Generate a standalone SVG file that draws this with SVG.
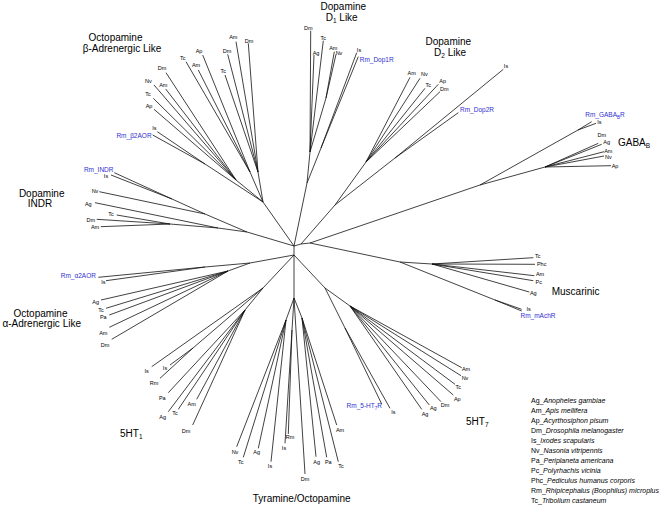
<svg xmlns="http://www.w3.org/2000/svg" width="662" height="511" viewBox="0 0 662 511">
<style>
.e{fill:none;stroke:#111;stroke-width:0.8}
.l{font-family:"Liberation Sans",Arial,sans-serif;font-size:5.5px;fill:#000;text-anchor:middle}
.b{font-family:"Liberation Sans",Arial,sans-serif;font-size:6.5px;fill:#3030d0;text-anchor:middle}
.t{font-family:"Liberation Sans",Arial,sans-serif;font-size:10px;fill:#000;text-anchor:middle}
.ts{font-family:"Liberation Sans",Arial,sans-serif;font-size:10px;fill:#000}
.g{font-family:"Liberation Sans",Arial,sans-serif;font-size:7px;fill:#000}
.i{font-style:italic}
</style>
<rect width="662" height="511" fill="#fff"/>
<g id="connectors" class="e">
<path d="M294 246L301 244M294 246L294 255M294 246L307 183M294 246L263 202M294 246L247 232M294 255L250 263M294 255L263 288M294 255L294 298M294 255L325 288M301 244L335 205M301 244L310 243M310 243L480 185M310 243L400 262"/>
<path d="M307 183L310 152M310 152L310.7 30.7M310 152L314 55M310 152L323.3 40.7M310 152L326 98M326 98L334.3 51.7M326 98L336 54.3M307 183L321 148M321 148L356.7 52.7M321 148L358.3 56.7"/>
<path d="M263 202L205 164M205 164L157.3 131.7M205 164L152.7 135M263 202L236 180M236 180L166 72.7M236 180L154 85M236 180L165.7 89M236 180L153.3 98.3M236 180L154 109.3M263 202L250 172M250 172L186 61.7M250 172L198.3 70M250 172L202.7 55M263 202L258 172M258 172L227.7 54.3M258 172L225 75M258 172L236 41.7M258 172L248.3 43.3"/>
<path d="M247 232L205 214M205 214L172 199M172 199L111 175M172 199L114.3 172.7M205 214L99.3 191.7M247 232L218 228M218 228L95 202.7M218 228L170 224M170 224L116.7 215M170 224L96.7 219.3M170 224L100.7 226.7"/>
<path d="M250 263L205 267M205 267L98.3 277.3M205 267L106 280.7M250 263L228 271M228 271L101 300M228 271L106 308.3M228 271L109.3 315M228 271L109.3 327.3M228 271L111.7 339.3"/>
<path d="M263 288L151.7 366.7M263 288L193 348M193 348L170 365M193 348L160 378.3M263 288L245 310M245 310L168.3 392.7M245 310L168.3 411.7M245 310L178.3 409.3M245 310L196.7 399.3M245 310L192.7 425"/>
<path d="M294 298L286 320M286 320L236.7 446.7M286 320L243.3 457.3M286 320L258.3 448.3M286 320L271 461.7M294 298L292 330M292 330L288.3 434M292 330L285 443.3M294 298L305 474M294 298L302 318M302 318L316 456.7M302 318L326.7 457.3M302 318L338.3 461.7M302 318L336.7 425"/>
<path d="M325 288L345 328M345 328L381.7 404M345 328L390 408.3M325 288L350 306M350 306L461.7 367.7M350 306L461 375.7M350 306L455 384.3M350 306L453.3 395M350 306L441 401.7M350 306L429.3 405M350 306L421.7 409.3"/>
<path d="M335 205L366 162M366 162L410 77.3M366 162L420 78.3M366 162L425 88.3M366 162L438.3 84.3M366 162L440 91.7M335 205L395 158M395 158L503.3 69.3M395 158L458.3 112.7"/>
<path d="M480 185L578 130M578 130L591.7 121.7M578 130L596 123.3M480 185L545 167M545 167L598.3 143.3M545 167L601.7 144.3M545 167L604 151.7M545 167L604 156M545 167L611 165.7"/>
<path d="M400 262L432 264M432 264L533.3 257.7M432 264L535 264.3M432 264L534.3 275.7M432 264L533.3 280.7M432 264L529.3 292M400 262L495 300M495 300L521.7 309.3M495 300L521.7 311"/>
</g>
<g id="clade-beta">
<text class="t" x="115.5" y="41">Octopamine</text>
<text class="t" x="122" y="52">β-Adrenergic Like</text>
<g id="b-Am1"><text class="l" x="233.3" y="39">Am</text></g>
<g id="b-Dm1"><text class="l" x="249" y="42.7">Dm</text></g>
<g id="b-Ap1"><text class="l" x="199" y="52.7">Ap</text></g>
<g id="b-Dm2"><text class="l" x="227" y="53">Dm</text></g>
<g id="b-Tc1"><text class="l" x="182.7" y="60.3">Tc</text></g>
<g id="b-Am2"><text class="l" x="196" y="67">Am</text></g>
<g id="b-Tc2"><text class="l" x="223.3" y="72.7">Tc</text></g>
<g id="b-Dm3"><text class="l" x="162" y="70.3">Dm</text></g>
<g id="b-Nv"><text class="l" x="148.3" y="83">Nv</text></g>
<g id="b-Am3"><text class="l" x="163.3" y="87">Am</text></g>
<g id="b-Tc3"><text class="l" x="148" y="96.3">Tc</text></g>
<g id="b-Ap2"><text class="l" x="149" y="108">Ap</text></g>
<g id="b-Is"><text class="l" x="154.3" y="130.3">Is</text></g>
<g id="b-Rm"><text class="b" x="134" y="138.3">Rm_β2AOR</text></g>
</g>
<g id="clade-d1">
<text class="t" x="343.3" y="10">Dopamine</text>
<text class="t" x="341.7" y="20.5">D<tspan font-size="6.5" dy="2">1</tspan><tspan dy="-2"> Like</tspan></text>
<g id="d1-Dm"><text class="l" x="308.3" y="30.3">Dm</text></g>
<g id="d1-Tc"><text class="l" x="323.3" y="39.7">Tc</text></g>
<g id="d1-Ag"><text class="l" x="316" y="54.7">Ag</text></g>
<g id="d1-Am"><text class="l" x="333.3" y="50.3">Am</text></g>
<g id="d1-Nv"><text class="l" x="339" y="55.3">Nv</text></g>
<g id="d1-Is"><text class="l" x="359" y="52">Is</text></g>
<g id="d1-Rm"><text class="b" x="376.7" y="62.3">Rm_Dop1R</text></g>
</g>
<g id="clade-d2">
<text class="t" x="448.3" y="45">Dopamine</text>
<text class="t" x="450" y="56">D<tspan font-size="6.5" dy="2">2</tspan><tspan dy="-2"> Like</tspan></text>
<g id="d2-Am"><text class="l" x="411.7" y="74.7">Am</text></g>
<g id="d2-Nv"><text class="l" x="424.3" y="76">Nv</text></g>
<g id="d2-Tc"><text class="l" x="428.3" y="87">Tc</text></g>
<g id="d2-Ap"><text class="l" x="442.7" y="82.7">Ap</text></g>
<g id="d2-Dm"><text class="l" x="444.3" y="91.3">Dm</text></g>
<g id="d2-Is"><text class="l" x="506" y="68">Is</text></g>
<g id="d2-Rm"><text class="b" x="477" y="112.3">Rm_Dop2R</text></g>
</g>
<g id="clade-gaba">
<text class="ts" x="618" y="146">GABA<tspan font-size="6.5" dy="2">B</tspan></text>
<g id="g-Rm"><text class="b" x="605" y="117.3">Rm_GABA<tspan font-size="4.5" dy="1.5">B</tspan><tspan dy="-1.5">R</tspan></text></g>
<g id="g-Is"><text class="l" x="599.3" y="123.7">Is</text></g>
<g id="g-Dm"><text class="l" x="601.7" y="137">Dm</text></g>
<g id="g-Ag"><text class="l" x="606.7" y="144.3">Ag</text></g>
<g id="g-Am"><text class="l" x="608.3" y="152.7">Am</text></g>
<g id="g-Nv"><text class="l" x="608.3" y="158.7">Nv</text></g>
<g id="g-Ap"><text class="l" x="615" y="167.7">Ap</text></g>
</g>
<g id="clade-musc">
<text class="ts" x="551.7" y="295">Muscarinic</text>
<g id="m-Tc"><text class="l" x="537.7" y="257.7">Tc</text></g>
<g id="m-Phc"><text class="l" x="541.7" y="266">Phc</text></g>
<g id="m-Am"><text class="l" x="540" y="276.3">Am</text></g>
<g id="m-Pc"><text class="l" x="538.7" y="283.7">Pc</text></g>
<g id="m-Ag"><text class="l" x="533.3" y="294.7">Ag</text></g>
<g id="m-Is"><text class="l" x="528.7" y="310.7">Is</text></g>
<g id="m-Rm"><text class="b" x="538" y="318.3">Rm_mAchR</text></g>
</g>
<g id="clade-indr">
<text class="t" x="41.7" y="196.5">Dopamine</text>
<text class="t" x="40" y="206.7">INDR</text>
<g id="i-Rm"><text class="b" x="98.7" y="172.3">Rm_INDR</text></g>
<g id="i-Is"><text class="l" x="106" y="178">Is</text></g>
<g id="i-Nv"><text class="l" x="95" y="192.7">Nv</text></g>
<g id="i-Ag"><text class="l" x="88.3" y="206">Ag</text></g>
<g id="i-Tc"><text class="l" x="111" y="216">Tc</text></g>
<g id="i-Dm"><text class="l" x="90.7" y="222">Dm</text></g>
<g id="i-Am"><text class="l" x="95" y="229.3">Am</text></g>
</g>
<g id="clade-alpha">
<text class="t" x="40.5" y="316.5">Octopamine</text>
<text class="t" x="41.7" y="327">α-Adrenergic Like</text>
<g id="a-Rm"><text class="b" x="78.3" y="278">Rm_α2AOR</text></g>
<g id="a-Is"><text class="l" x="103.3" y="284.3">Is</text></g>
<g id="a-Ag"><text class="l" x="95.7" y="303.7">Ag</text></g>
<g id="a-Tc"><text class="l" x="101" y="312">Tc</text></g>
<g id="a-Pa"><text class="l" x="103.3" y="318.7">Pa</text></g>
<g id="a-Am"><text class="l" x="103.3" y="334.7">Am</text></g>
<g id="a-Dm"><text class="l" x="105" y="347">Dm</text></g>
</g>
<g id="clade-5ht1">
<text class="ts" x="120" y="437">5HT<tspan font-size="6.5" dy="2">1</tspan></text>
<g id="h1-Is1"><text class="l" x="146.7" y="372.7">Is</text></g>
<g id="h1-Is2"><text class="l" x="165" y="369.5">Is</text></g>
<g id="h1-Rm"><text class="l" x="154" y="385.3">Rm</text></g>
<g id="h1-Pa"><text class="l" x="162.3" y="400.3">Pa</text></g>
<g id="h1-Ag"><text class="l" x="162.7" y="418.7">Ag</text></g>
<g id="h1-Tc"><text class="l" x="175" y="414.7">Tc</text></g>
<g id="h1-Am"><text class="l" x="191.7" y="406.3">Am</text></g>
<g id="h1-Dm"><text class="l" x="186" y="432.7">Dm</text></g>
</g>
<g id="clade-tyr">
<text class="t" x="301.7" y="502">Tyramine/Octopamine</text>
<g id="t-Nv"><text class="l" x="235" y="453.7">Nv</text></g>
<g id="t-Tc1"><text class="l" x="240.7" y="463.7">Tc</text></g>
<g id="t-Ag1"><text class="l" x="256.7" y="453.7">Ag</text></g>
<g id="t-Is1"><text class="l" x="270" y="468">Is</text></g>
<g id="t-Rm"><text class="l" x="290" y="439.3">Rm</text></g>
<g id="t-Is2"><text class="l" x="284" y="449.7">Is</text></g>
<g id="t-Dm"><text class="l" x="305" y="481.3">Dm</text></g>
<g id="t-Ag2"><text class="l" x="316.7" y="463.7">Ag</text></g>
<g id="t-Pa"><text class="l" x="328.3" y="463.7">Pa</text></g>
<g id="t-Tc2"><text class="l" x="341" y="468">Tc</text></g>
<g id="t-Am"><text class="l" x="340" y="432">Am</text></g>
</g>
<g id="clade-5ht7">
<text class="ts" x="466" y="425">5HT<tspan font-size="6.5" dy="2">7</tspan></text>
<g id="h7-Am"><text class="l" x="466" y="371.3">Am</text></g>
<g id="h7-Nv"><text class="l" x="465" y="380.3">Nv</text></g>
<g id="h7-Tc"><text class="l" x="458.3" y="389.3">Tc</text></g>
<g id="h7-Ap"><text class="l" x="457.3" y="401">Ap</text></g>
<g id="h7-Dm"><text class="l" x="445" y="407">Dm</text></g>
<g id="h7-Ag1"><text class="l" x="433.3" y="410.3">Ag</text></g>
<g id="h7-Ag2"><text class="l" x="425" y="416">Ag</text></g>
<g id="h7-Is"><text class="l" x="393.3" y="413.7">Is</text></g>
<g id="h7-Rm"><text class="b" x="364.3" y="408.3">Rm_5-HT<tspan font-size="4.5" dy="1.5">7</tspan><tspan dy="-1.5">R</tspan></text></g>
</g>
<g id="legend">
<text class="g" x="531" y="403">Ag_<tspan class="i">Anopheles gambiae</tspan></text>
<text class="g" x="531" y="413">Am_<tspan class="i">Apis mellifera</tspan></text>
<text class="g" x="531" y="423">Ap_<tspan class="i">Acyrthosiphon pisum</tspan></text>
<text class="g" x="531" y="433">Dm_<tspan class="i">Drosophila melanogaster</tspan></text>
<text class="g" x="531" y="443">Is_<tspan class="i">Ixodes scapularis</tspan></text>
<text class="g" x="531" y="453">Nv_<tspan class="i">Nasonia vitripennis</tspan></text>
<text class="g" x="531" y="463">Pa_<tspan class="i">Periplaneta americana</tspan></text>
<text class="g" x="531" y="473">Pc_<tspan class="i">Polyrhachis vicinia</tspan></text>
<text class="g" x="531" y="483">Phc_<tspan class="i">Pediculus humanus corporis</tspan></text>
<text class="g" x="531" y="493">Rm_<tspan class="i">Rhipicephalus (Boophilus) microplus</tspan></text>
<text class="g" x="531" y="503">Tc_<tspan class="i">Tribolium castaneum</tspan></text>
</g>
</svg>
